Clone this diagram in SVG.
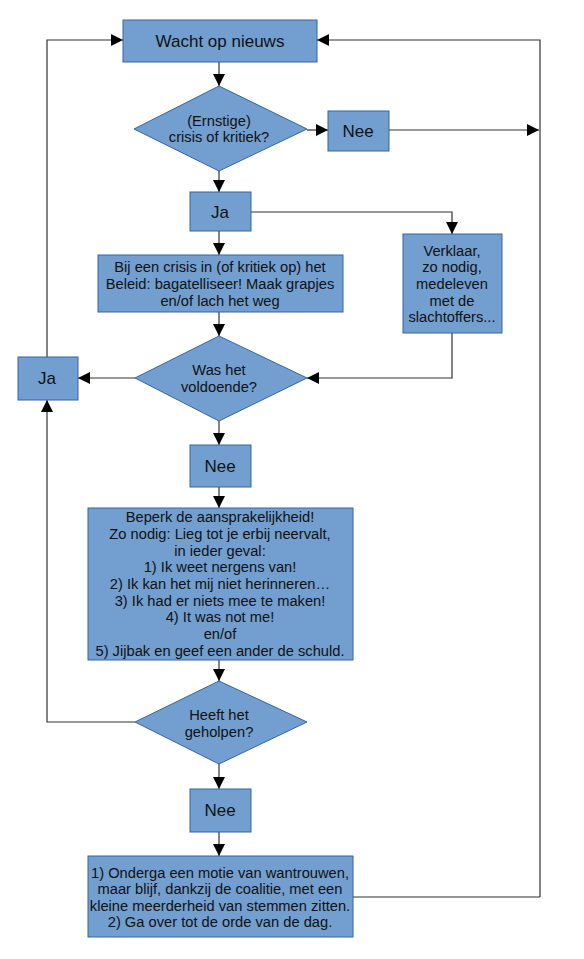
<svg xmlns="http://www.w3.org/2000/svg" width="584" height="959" viewBox="0 0 584 959">
<defs>
<marker id="ah" markerWidth="12" markerHeight="12" viewBox="0 0 12 12" refX="12" refY="6" orient="auto" markerUnits="userSpaceOnUse">
<path d="M0,0 L12,6 L0,12 Z" fill="#000"/>
</marker>
</defs>
<style>
.box{fill:#729fcf;stroke:#3465a4;stroke-width:1}
.t{font-family:"Liberation Sans",Arial,sans-serif;fill:#111;text-anchor:middle}
.big{font-size:17px}
.sm{font-size:14.7px}
.c{fill:none;stroke:#333;stroke-width:1.2}
.a{marker-end:url(#ah)}
</style>
<rect width="584" height="959" fill="#fff"/>
<g id="connectors">
<path class="c a" d="M219,62 V86"/>
<path class="c a" d="M307,130 H328"/>
<path class="c a" d="M389,130 H539"/>
<path class="c a" d="M540,897 V40 H317"/>
<path class="c" d="M353,897 H540"/>
<path class="c a" d="M219,171 V192"/>
<path class="c a" d="M251,212 H452 V234"/>
<path class="c a" d="M219,231 V255"/>
<path class="c a" d="M452,333 V378 H307"/>
<path class="c a" d="M219,312 V336"/>
<path class="c a" d="M135,378 H78"/>
<path class="c a" d="M47,357 V40 H123"/>
<path class="c a" d="M219,421 V445"/>
<path class="c a" d="M219,487 V508"/>
<path class="c a" d="M219,660 V681"/>
<path class="c a" d="M135,722 H47 V400"/>
<path class="c a" d="M219,764 V789"/>
<path class="c a" d="M219,832 V856"/>
</g>
<g id="wacht">
<rect class="box" x="123" y="20" width="194" height="42"/>
<text class="t big" x="220" y="47">Wacht op nieuws</text>
</g>
<g id="crisis">
<polygon class="box" points="219,86 307,129 219,171 134,129"/>
<text class="t sm" x="219" y="126">(Ernstige)</text>
<text class="t sm" x="219" y="142">crisis of kritiek?</text>
</g>
<g id="nee1">
<rect class="box" x="328" y="111" width="61" height="40"/>
<text class="t big" x="358" y="137">Nee</text>
</g>
<g id="ja1">
<rect class="box" x="190" y="192" width="61" height="39"/>
<text class="t big" x="220" y="218">Ja</text>
</g>
<g id="verklaar">
<rect class="box" x="403" y="234" width="99" height="99"/>
<text class="t sm" x="452" y="256">Verklaar,</text>
<text class="t sm" x="452" y="272">zo nodig,</text>
<text class="t sm" x="452" y="289">medeleven</text>
<text class="t sm" x="452" y="306">met de</text>
<text class="t sm" x="452" y="322">slachtoffers...</text>
</g>
<g id="bagatelliseer">
<rect class="box" x="98" y="255" width="245" height="57"/>
<text class="t sm" x="220" y="272">Bij een crisis in (of kritiek op) het</text>
<text class="t sm" x="220" y="289">Beleid: bagatelliseer! Maak grapjes</text>
<text class="t sm" x="220" y="306">en/of lach het weg</text>
</g>
<g id="voldoende">
<polygon class="box" points="219,336 307,378 219,421 135,378"/>
<text class="t sm" x="219" y="375">Was het</text>
<text class="t sm" x="219" y="392">voldoende?</text>
</g>
<g id="ja2">
<rect class="box" x="18" y="357" width="60" height="43"/>
<text class="t big" x="47" y="384">Ja</text>
</g>
<g id="nee2">
<rect class="box" x="190" y="445" width="61" height="42"/>
<text class="t big" x="220" y="472">Nee</text>
</g>
<g id="beperk">
<rect class="box" x="88" y="508" width="265" height="152"/>
<text class="t sm" x="220" y="522">Beperk de aansprakelijkheid!</text>
<text class="t sm" x="220" y="539">Zo nodig: Lieg tot je erbij neervalt,</text>
<text class="t sm" x="220" y="556">in ieder geval:</text>
<text class="t sm" x="220" y="572">1) Ik weet nergens van!</text>
<text class="t sm" x="220" y="589">2) Ik kan het mij niet herinneren…</text>
<text class="t sm" x="220" y="606">3) Ik had er niets mee te maken!</text>
<text class="t sm" x="220" y="622">4) It was not me!</text>
<text class="t sm" x="220" y="639">en/of</text>
<text class="t sm" x="220" y="656">5) Jijbak en geef een ander de schuld.</text>
</g>
<g id="geholpen">
<polygon class="box" points="219,681 307,722 219,764 135,722"/>
<text class="t sm" x="219" y="720">Heeft het</text>
<text class="t sm" x="219" y="737">geholpen?</text>
</g>
<g id="nee3">
<rect class="box" x="190" y="789" width="61" height="43"/>
<text class="t big" x="220" y="816">Nee</text>
</g>
<g id="motie">
<rect class="box" x="88" y="856" width="265" height="81"/>
<text class="t sm" x="220" y="878">1) Onderga een motie van wantrouwen,</text>
<text class="t sm" x="220" y="894">maar blijf, dankzij de coalitie, met een</text>
<text class="t sm" x="220" y="911">kleine meerderheid van stemmen zitten.</text>
<text class="t sm" x="220" y="927">2) Ga over tot de orde van de dag.</text>
</g>
</svg>
